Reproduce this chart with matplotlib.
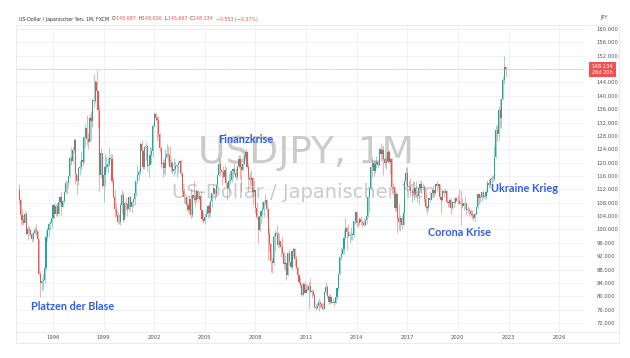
import matplotlib
matplotlib.use("Agg")
import matplotlib.pyplot as plt
import numpy as np

# monthly USDJPY candles, Jan 1994 .. Nov 2022 (open = previous close)
first_open = 111.9
close = [
    108.8, 104.3, 102.8, 102.0, 104.5, 98.5, 100.0, 99.9, 98.5, 97.0, 98.9, 99.7,          # 1994
    99.5, 97.0, 86.8, 84.0, 84.6, 84.8, 88.5, 97.6, 99.7, 101.7, 101.9, 103.5,             # 1995
    107.2, 104.6, 106.9, 104.6, 108.3, 109.7, 106.8, 108.6, 111.3, 114.0, 113.8, 115.9,    # 1996
    121.3, 120.5, 123.9, 126.9, 116.5, 114.6, 118.4, 118.6, 120.8, 120.3, 127.8, 130.4,    # 1997
    127.0, 126.3, 133.3, 132.5, 138.8, 138.4, 144.1, 141.3, 135.8, 116.3, 122.8, 113.1,    # 1998
    116.3, 118.7, 118.8, 119.5, 121.5, 121.0, 114.6, 109.7, 106.0, 104.3, 102.1, 102.2,    # 1999
    107.3, 110.2, 102.7, 108.0, 107.7, 106.1, 109.6, 106.7, 108.1, 109.0, 110.9, 114.4,    # 2000
    116.4, 117.3, 125.5, 123.6, 118.8, 124.6, 124.9, 118.9, 119.4, 122.4, 123.5, 131.0,    # 2001
    134.6, 133.5, 132.7, 128.5, 124.3, 119.5, 119.8, 118.3, 121.8, 122.5, 122.4, 118.8,    # 2002
    119.9, 117.4, 118.1, 118.9, 119.4, 119.8, 120.5, 116.9, 111.4, 109.6, 109.6, 107.2,    # 2003
    105.9, 109.1, 104.2, 110.3, 109.5, 108.8, 111.4, 109.2, 110.0, 105.8, 103.1, 102.6,    # 2004
    103.6, 104.6, 107.1, 104.9, 108.4, 110.9, 112.4, 110.6, 113.3, 116.4, 119.7, 117.8,    # 2005
    117.2, 115.8, 117.8, 113.8, 112.5, 114.4, 114.7, 117.4, 118.1, 116.9, 115.8, 119.0,    # 2006
    121.0, 118.6, 117.8, 119.5, 121.7, 123.2, 118.7, 115.8, 114.8, 115.3, 111.2, 111.7,    # 2007
    106.4, 103.8, 99.7, 104.0, 105.5, 106.2, 108.1, 108.8, 106.1, 98.5, 95.5, 90.6,        # 2008
    89.9, 97.6, 98.9, 98.6, 95.3, 96.4, 94.7, 93.0, 89.8, 90.1, 86.3, 93.0,                # 2009
    90.3, 88.9, 93.5, 94.0, 91.2, 88.4, 86.5, 84.2, 83.5, 80.4, 83.7, 81.1,                # 2010
    82.0, 81.8, 83.1, 81.2, 81.5, 80.5, 76.8, 76.6, 77.0, 78.2, 77.6, 76.9,                # 2011
    76.3, 81.2, 82.8, 80.0, 78.3, 79.8, 78.1, 78.4, 77.9, 79.8, 82.5, 86.7,                # 2012
    91.7, 92.6, 94.2, 97.4, 100.5, 99.2, 97.9, 98.2, 98.3, 98.4, 102.4, 105.3,             # 2013
    102.0, 101.8, 103.2, 102.2, 101.8, 101.3, 102.8, 104.1, 109.7, 112.3, 118.6, 119.8,    # 2014
    117.5, 119.6, 120.1, 119.4, 124.1, 122.5, 123.9, 121.2, 119.9, 120.6, 123.1, 120.2,    # 2015
    121.1, 112.7, 112.6, 106.4, 110.7, 103.3, 102.1, 103.4, 101.3, 104.8, 114.5, 117.0,    # 2016
    112.7, 112.8, 111.4, 111.5, 110.8, 112.4, 110.3, 110.0, 112.5, 113.6, 112.5, 112.7,    # 2017
    109.2, 106.7, 106.3, 109.3, 108.8, 110.8, 111.9, 111.0, 113.7, 112.9, 113.5, 109.7,    # 2018
    108.9, 111.4, 110.9, 111.4, 108.3, 107.9, 108.8, 106.3, 108.1, 108.0, 109.5, 108.6,    # 2019
    108.4, 107.9, 107.5, 106.9, 107.8, 107.9, 105.9, 105.9, 105.5, 104.7, 104.3, 103.3,    # 2020
    104.7, 106.6, 110.7, 109.3, 109.6, 111.1, 109.7, 110.0, 111.3, 113.9, 113.2, 115.1,    # 2021
    115.1, 115.0, 121.7, 129.9, 128.7, 135.7, 133.3, 138.9, 144.7, 148.687, 148.134,       # 2022
]
high = [
    113.6, 109.5, 106.0, 104.2, 105.5, 105.2, 101.0, 100.9, 100.2, 98.9, 99.3, 100.8,
    101.5, 99.6, 97.2, 87.5, 85.5, 86.8, 89.5, 99.8, 100.8, 102.2, 102.5, 103.9,
    107.6, 107.9, 107.5, 108.0, 109.1, 109.9, 111.3, 108.8, 111.5, 114.8, 114.6, 116.1,
    121.9, 124.6, 124.8, 127.5, 127.2, 116.4, 118.7, 120.4, 123.2, 122.6, 128.0, 131.6,
    134.2, 128.8, 134.6, 135.5, 139.0, 146.6, 144.8, 147.7, 139.6, 136.9, 124.4, 122.3,
    117.0, 122.7, 122.0, 121.3, 124.8, 122.7, 122.5, 115.6, 111.8, 108.0, 105.6, 104.6,
    107.9, 111.8, 111.2, 108.3, 109.8, 108.0, 109.9, 109.9, 108.4, 109.4, 111.1, 114.6,
    119.4, 118.2, 126.3, 126.8, 124.0, 124.8, 126.1, 125.4, 121.5, 124.6, 124.7, 131.7,
    135.2, 134.9, 133.7, 133.9, 128.9, 124.8, 121.0, 121.0, 124.0, 125.6, 125.1, 125.0,
    121.0, 120.6, 121.5, 120.6, 119.7, 120.5, 120.9, 121.0, 117.3, 112.1, 110.8, 109.8,
    107.9, 109.9, 112.2, 110.5, 114.9, 110.5, 112.0, 111.9, 111.6, 111.5, 106.1, 105.1,
    104.7, 106.0, 107.5, 108.2, 108.5, 111.0, 113.7, 112.0, 113.5, 116.4, 121.4, 121.0,
    117.8, 119.0, 119.3, 118.7, 113.9, 116.9, 117.8, 117.5, 118.5, 119.9, 118.3, 119.1,
    122.2, 122.2, 119.9, 120.3, 122.3, 124.1, 123.4, 119.8, 117.2, 117.9, 115.6, 114.7,
    111.5, 108.2, 103.9, 104.6, 105.5, 108.6, 108.6, 110.7, 109.0, 106.4, 100.3, 96.0,
    91.6, 98.9, 99.7, 101.4, 99.2, 98.9, 95.5, 97.8, 93.4, 92.3, 90.3, 93.1,
    93.8, 91.3, 93.8, 94.8, 94.3, 92.3, 89.0, 86.3, 85.9, 84.0, 84.4, 84.5,
    83.7, 83.7, 84.2, 85.5, 82.2, 81.8, 81.0, 77.8, 77.9, 79.5, 78.3, 78.3,
    77.9, 81.7, 84.2, 83.3, 80.6, 80.6, 80.0, 79.6, 78.8, 80.4, 82.8, 86.6,
    91.8, 94.8, 96.7, 99.9, 103.7, 101.1, 101.5, 99.1, 100.6, 99.0, 102.5, 105.4,
    105.4, 102.7, 103.8, 104.1, 102.8, 102.8, 103.2, 104.5, 110.1, 112.5, 118.9, 121.8,
    120.5, 120.5, 122.0, 120.8, 124.5, 125.9, 124.6, 125.3, 121.8, 121.5, 123.8, 123.7,
    121.7, 121.5, 114.0, 112.0, 111.5, 110.0, 107.5, 104.3, 104.2, 105.5, 114.8, 118.7,
    118.6, 114.9, 115.5, 112.2, 114.4, 114.5, 114.5, 111.0, 113.3, 114.4, 114.7, 114.0,
    113.4, 110.5, 107.3, 109.5, 111.4, 110.9, 113.2, 111.8, 114.0, 114.6, 114.0, 113.7,
    110.0, 112.0, 112.1, 112.4, 111.7, 108.8, 109.3, 109.3, 108.5, 109.3, 109.7, 109.7,
    110.3, 112.2, 111.7, 109.4, 108.1, 109.9, 107.9, 107.1, 106.6, 106.1, 105.7, 104.7,
    104.9, 106.7, 110.9, 110.0, 110.2, 111.1, 111.7, 110.8, 112.1, 114.7, 115.5, 115.2,
    116.3, 116.3, 125.1, 131.3, 131.3, 137.0, 139.4, 139.1, 145.9, 151.9, 148.826,
]
low = [
    107.5, 101.4, 101.7, 101.3, 101.8, 98.2, 96.7, 98.2, 97.9, 96.3, 96.5, 98.5,
    98.3, 96.5, 86.4, 79.8, 81.5, 82.3, 84.1, 87.9, 96.6, 97.8, 99.8, 100.3,
    103.5, 103.0, 103.9, 104.0, 104.3, 107.6, 104.2, 106.6, 107.8, 110.9, 110.6, 112.4,
    115.5, 119.2, 119.8, 122.9, 113.5, 110.6, 113.3, 116.4, 117.9, 119.1, 119.9, 124.8,
    125.3, 124.2, 126.1, 126.9, 130.8, 136.8, 137.9, 139.6, 130.4, 111.6, 115.4, 112.3,
    108.3, 113.0, 117.7, 117.0, 118.9, 117.9, 114.0, 109.3, 103.6, 103.6, 101.7, 101.5,
    101.4, 104.6, 102.2, 103.9, 105.9, 104.1, 105.6, 105.9, 105.3, 106.6, 107.2, 110.0,
    114.0, 114.8, 116.7, 121.1, 118.2, 118.1, 120.7, 117.6, 115.8, 119.5, 119.8, 121.7,
    130.8, 132.4, 126.5, 127.6, 123.1, 118.3, 115.6, 116.5, 116.2, 121.5, 120.3, 118.4,
    117.1, 116.7, 115.9, 116.8, 115.7, 116.9, 116.6, 116.1, 110.9, 108.0, 107.6, 106.7,
    105.2, 104.7, 103.5, 103.8, 108.2, 106.8, 107.9, 108.1, 108.9, 105.2, 102.4, 101.8,
    101.7, 103.8, 103.3, 104.1, 103.8, 106.6, 110.1, 108.8, 109.6, 113.2, 115.9, 115.9,
    113.4, 115.3, 115.5, 113.1, 108.9, 110.9, 113.6, 114.3, 115.4, 116.5, 114.9, 115.1,
    118.4, 115.2, 111.6, 117.4, 119.4, 121.2, 118.6, 111.6, 113.1, 113.4, 107.2, 109.9,
    105.0, 103.0, 95.8, 99.1, 101.7, 103.8, 103.8, 107.4, 103.5, 90.9, 93.3, 87.2,
    87.1, 89.5, 93.6, 96.3, 94.4, 94.6, 91.8, 92.6, 88.2, 88.0, 84.8, 86.1,
    89.4, 88.1, 88.1, 92.2, 89.1, 88.2, 86.3, 83.6, 82.8, 80.2, 80.3, 80.9,
    81.6, 81.5, 76.3, 81.1, 79.6, 80.1, 76.6, 75.9, 76.1, 75.6, 76.6, 76.6,
    76.0, 76.1, 80.6, 79.6, 77.6, 77.6, 77.9, 78.0, 77.1, 77.9, 79.1, 81.7,
    86.5, 90.9, 92.6, 92.6, 97.3, 93.8, 97.6, 95.8, 96.9, 96.9, 97.6, 101.6,
    100.8, 100.8, 101.2, 101.4, 100.8, 101.1, 101.1, 101.5, 103.7, 105.2, 111.9, 115.6,
    115.9, 116.9, 118.3, 118.5, 118.9, 120.4, 120.8, 116.2, 118.7, 118.1, 120.3, 119.9,
    116.5, 110.9, 110.7, 105.6, 105.5, 99.0, 99.9, 99.6, 100.1, 101.2, 101.2, 113.2,
    111.6, 111.7, 110.1, 108.1, 110.2, 108.8, 110.0, 108.3, 107.3, 111.7, 110.8, 111.9,
    108.3, 105.6, 104.6, 105.7, 108.1, 109.2, 110.3, 109.8, 110.4, 111.4, 112.3, 109.5,
    104.9, 108.5, 109.7, 110.8, 108.3, 106.8, 106.8, 104.5, 106.0, 106.5, 107.9, 108.4,
    107.7, 107.5, 101.2, 106.4, 105.9, 106.1, 104.2, 105.1, 104.0, 104.0, 103.2, 102.9,
    102.6, 104.4, 106.4, 107.5, 108.3, 108.6, 109.1, 109.1, 109.1, 110.8, 112.5, 112.6,
    113.5, 114.4, 114.6, 121.3, 126.4, 126.9, 130.4, 130.4, 138.7, 143.5, 145.667,
]

start_year = 1994
year_ticks = [1996, 1999, 2002, 2005, 2008, 2011, 2014, 2017, 2020, 2023, 2026]
price_ticks = list(range(72, 161, 4))
notes = [("Platzen der Blase", 31, 307), ("Finanzkrise", 218, 140),
         ("Corona Krise", 428, 233), ("Ukraine Krieg", 491, 189)]

UP, DOWN = "#26a69a", "#ef5350"
W, H = 630, 358

close = np.array(close)
high = np.array(high)
low = np.array(low)
opn = np.concatenate([[first_open], close[:-1]])
x = np.arange(len(close))
up = close >= opn
cols = np.where(up, UP, DOWN)

fig = plt.figure(figsize=(W / 100, H / 100), dpi=100)
ax = fig.add_axes([16 / W, 1 - 332 / H, (585 - 16) / W, (332 - 25) / H])

# light grid
for yt in price_ticks:
    ax.axhline(yt, color="#eef0f4", lw=0.6, zorder=0)
for yr in year_ticks:
    ax.axvline((yr - start_year) * 12, color="#eef0f4", lw=0.6, zorder=0)

# watermark
ax.text(0.51, 0.584, "USDJPY, 1M", transform=ax.transAxes, fontsize=27,
        color="#cbcbcb", ha="center", va="center", zorder=1)
ax.text(0.505, 0.455, "US-Dollar / Japanischer Yen", transform=ax.transAxes,
        fontsize=14, color="#cbcbcb", ha="center", va="center", zorder=1)

# candles
ax.vlines(x, low, high, colors=cols, lw=0.6, alpha=0.55, zorder=2)
body_lo = np.minimum(opn, close)
body_h = np.maximum(np.abs(close - opn), 0.25)
ax.bar(x, body_h, bottom=body_lo, width=0.8, color=cols, linewidth=0, zorder=3)

# last price line
ax.axhline(close[-1], color=DOWN, lw=0.5, alpha=0.5, ls=(0, (1, 1)), zorder=1)

ax.set_xlim(-2.3, 402.4)
ax.set_ylim(69.3, 161.2)
ax.set_xticks([(yr - start_year) * 12 for yr in year_ticks])
ax.set_xticklabels([str(yr) for yr in year_ticks])
ax.set_yticks(price_ticks)
ax.set_yticklabels(["" if p == 148 else f"{p:.3f}" for p in price_ticks])
ax.yaxis.tick_right()
ax.tick_params(axis="both", length=0, labelsize=3.8, colors="#555555")
ax.tick_params(axis="y", pad=8.5)
ax.tick_params(axis="x", pad=2.2)
for s in ax.spines.values():
    s.set_visible(False)

# annotations
for txt, px, py in notes:
    fig.text(px / W, 1 - py / H, txt, fontsize=7.8, fontweight="bold", family="Lato",
             color="#2f5fe6", ha="left", va="center")

# frame of the widget
fig.add_artist(plt.Rectangle((16 / W, 1 - 343 / H), (619 - 16) / W, (343 - 25) / H,
                             transform=fig.transFigure, fill=False, ec="#e6e8ec", lw=0.6))
fig.add_artist(plt.Line2D([16 / W, 619 / W], [1 - 332 / H, 1 - 332 / H],
                          transform=fig.transFigure, color="#e6e8ec", lw=0.6))

# price box on the axis
fig.add_artist(plt.Rectangle((589 / W, 1 - 77 / H), 27 / W, 15 / H,
                             transform=fig.transFigure, color=DOWN, lw=0))
fig.text(602.5 / W, 1 - 66 / H, f"{close[-1]:.3f}", fontsize=3.8, color="white",
         ha="center", va="center")
fig.text(602.5 / W, 1 - 73 / H, "26d 20h", fontsize=3.6, color="white",
         ha="center", va="center")
fig.text(600 / W, 1 - 17 / H, "JPY", fontsize=3.6, color="#555555", ha="left", va="center")

# header legend
r = fig.canvas.get_renderer()
hx = 19
chg = close[-1] - close[-2]
parts = [("US-Dollar / Japanischer Yen, 1M, FXCM  ", "#333333"),
         ("O", "#333333"), (f"{opn[-1]:.3f}  ", DOWN),
         ("H", "#333333"), (f"{high[-1]:.3f}  ", DOWN),
         ("L", "#333333"), (f"{low[-1]:.3f}  ", DOWN),
         ("C", "#333333"), (f"{close[-1]:.3f}  ", DOWN),
         (f"\u2212{abs(chg):.3f} (\u2212{abs(chg) / close[-2] * 100:.2f}%)", DOWN)]
for s, c in parts:
    t = fig.text(hx / W, 1 - 19 / H, s, fontsize=3.4, color=c, ha="left", va="center")
    hx += t.get_window_extent(r).width

fig.savefig("out.png", dpi=100, facecolor="white")
